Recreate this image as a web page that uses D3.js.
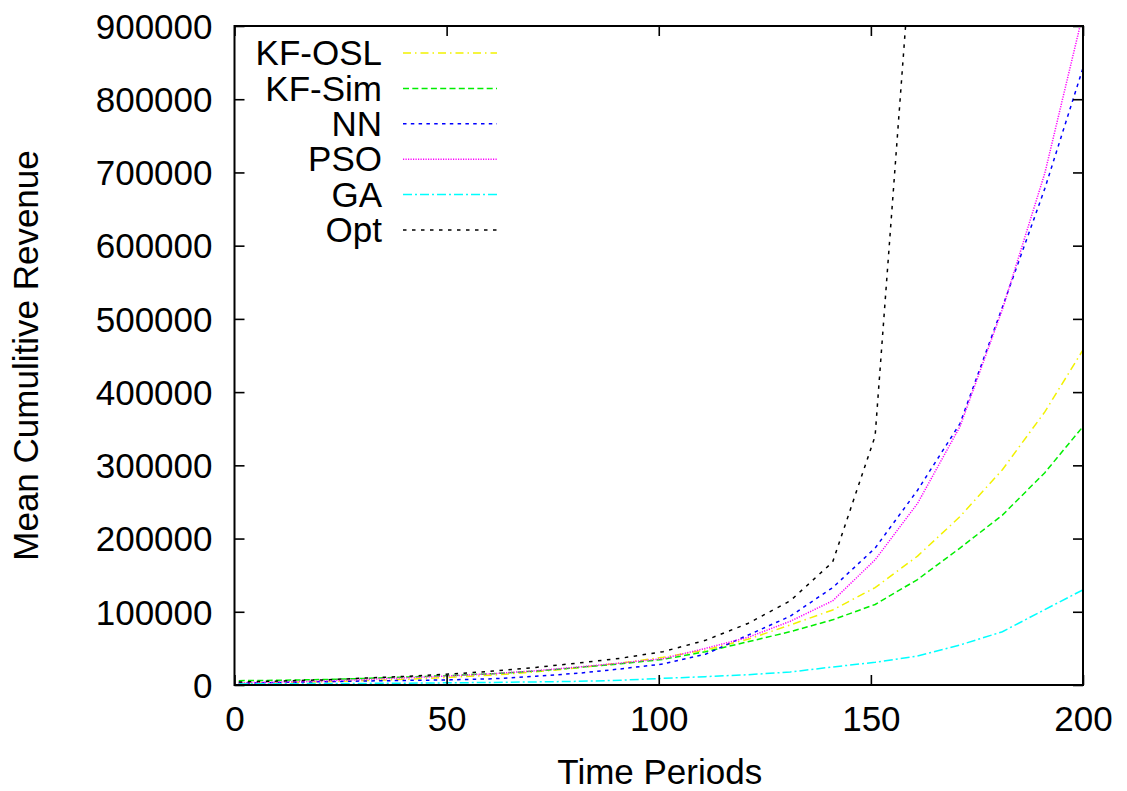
<!DOCTYPE html>
<html>
<head>
<meta charset="utf-8">
<script src="https://cdn.jsdelivr.net/npm/d3@7"></script>
<style>
  html, body { margin: 0; padding: 0; background: #fff; }
  svg { display: block; }
  text { font-family: "Liberation Sans", Arial, Helvetica, sans-serif; fill: #000; }
</style>
</head>
<body>
<svg id="chart" width="1127" height="791"></svg>
<script>
// ---------- data ----------
const periods = [1, 11, 21, 31, 41, 51, 61, 71, 81, 91, 101, 111, 121, 131, 141, 151, 161, 171, 181, 191, 201];

const kfOsl = [2000, 3000, 4500, 6000, 8000, 10500, 13500, 18000, 23500, 30000, 37800, 47800, 62400, 82000, 102500, 133000, 176000, 230000, 294000, 373000, 467000];
const kfSim = [5900, 6500, 7500, 9000, 11000, 13000, 15500, 19000, 24000, 29000, 35000, 45500, 59000, 72800, 89000, 110000, 144000, 187000, 232000, 290000, 360000];
const nn    = [2500, 3500, 4500, 5500, 6300, 7000, 8500, 12000, 16000, 22000, 28700, 42000, 68000, 94000, 133000, 187000, 266000, 357000, 516000, 678000, 861000];
const pso   = [3000, 4000, 5500, 7500, 10000, 12500, 15500, 19500, 24500, 30000, 36000, 50000, 65000, 87000, 115000, 171000, 248000, 353000, 513000, 699000, 941000];
const ga    = [1500, 1700, 2000, 2200, 2500, 3000, 3500, 4200, 5000, 6500, 9100, 11400, 14000, 17800, 24600, 31000, 39600, 54600, 72800, 103000, 133000];
const opt   = [4000, 5500, 7000, 9500, 12000, 15000, 19000, 24000, 30000, 36500, 45500, 61000, 84000, 115000, 168000, 340000, 1120000];

const seriesNames = ["KF-OSL", "KF-Sim", "NN", "PSO", "GA", "Opt"];
const seriesValues = [kfOsl, kfSim, nn, pso, ga, opt];

const xTicks = [0, 50, 100, 150, 200];
const yTicks = [0, 100000, 200000, 300000, 400000, 500000, 600000, 700000, 800000, 900000];

const xTitle = "Time Periods";
const yTitle = "Mean Cumulitive Revenue";

// ---------- styles ----------
const colors = ["#f2f200", "#00ee00", "#0000ff", "#ff00ff", "#00ffff", "#000000"];
const dashes = ["8,4,1.5,4", "6,3.3", "3.5,4.3", "1.2,1.3", "9,3,2,3", "3.5,5.5"];

// ---------- layout ----------
const L = 234.5, R = 1083, T = 26, B = 685;
const svg = d3.select("#chart");

const x = d3.scaleLinear().domain([0, 200]).range([L, R]);
const y = d3.scaleLinear().domain([0, 900000]).range([B, T]);

svg.append("defs").append("clipPath").attr("id", "plotclip")
  .append("rect").attr("x", L).attr("y", T).attr("width", R - L).attr("height", B - T);

// series
const line = d3.line().x(d => x(d[0])).y(d => y(d[1]));
const plot = svg.append("g").attr("clip-path", "url(#plotclip)");
seriesValues.forEach((vals, i) => {
  const pts = vals.map((v, j) => [periods[j], v]);
  plot.append("path")
    .attr("d", line(pts))
    .attr("fill", "none")
    .attr("stroke", colors[i])
    .attr("stroke-width", 1.5)
    .attr("stroke-dasharray", dashes[i]);
});

// axes (gnuplot-like: inward ticks, mirrored)
const fs = 35;
const tickLen = 10;
const axisG = svg.append("g");

const bottomAxis = d3.axisBottom(x).tickValues(xTicks).tickSize(-tickLen).tickPadding(20).tickFormat(d3.format("d"));
const topAxis = d3.axisTop(x).tickValues(xTicks).tickSize(-tickLen).tickFormat("");
const leftAxis = d3.axisLeft(y).tickValues(yTicks).tickSize(-tickLen).tickPadding(32).tickFormat(d3.format("d"));
const rightAxis = d3.axisRight(y).tickValues(yTicks).tickSize(-tickLen).tickFormat("");

function styleAxis(g) {
  g.select(".domain").remove();
  g.selectAll(".tick line").attr("stroke", "#000").attr("stroke-width", 1.6);
  g.selectAll(".tick text").attr("font-size", fs).attr("fill", "#000")
    .attr("font-family", '"Liberation Sans", Arial, Helvetica, sans-serif');
}

const gb = axisG.append("g").attr("transform", `translate(0,${B})`).call(bottomAxis).call(styleAxis);
gb.selectAll(".tick text").attr("dy", null).attr("y", 46);
axisG.append("g").attr("transform", `translate(0,${T})`).call(topAxis).call(styleAxis);
const gl = axisG.append("g").attr("transform", `translate(${L},0)`).call(leftAxis).call(styleAxis);
gl.selectAll(".tick text").attr("dy", "0.35em").attr("x", -22);
axisG.append("g").attr("transform", `translate(${R},0)`).call(rightAxis).call(styleAxis);

// border
svg.append("rect").attr("x", L).attr("y", T).attr("width", R - L).attr("height", B - T)
  .attr("fill", "none").attr("stroke", "#000").attr("stroke-width", 2);

// titles
svg.append("text").attr("x", (L + R) / 2 + 1).attr("y", 784)
  .attr("text-anchor", "middle").attr("font-size", fs).text(xTitle);
svg.append("text").attr("transform", `translate(38,${(T + B) / 2}) rotate(-90)`)
  .attr("text-anchor", "middle").attr("font-size", fs).text(yTitle);

// legend
const legendTop = 53, legendStep = 35.4;
const lg = svg.append("g");
seriesNames.forEach((name, i) => {
  const ly = legendTop + i * legendStep;
  lg.append("text").attr("x", 382).attr("y", ly).attr("dy", "0.35em")
    .attr("text-anchor", "end").attr("font-size", fs).text(name);
  lg.append("line").attr("x1", 403).attr("x2", 497).attr("y1", ly).attr("y2", ly)
    .attr("stroke", colors[i]).attr("stroke-width", 1.5).attr("stroke-dasharray", dashes[i]);
});
</script>
</body>
</html>
